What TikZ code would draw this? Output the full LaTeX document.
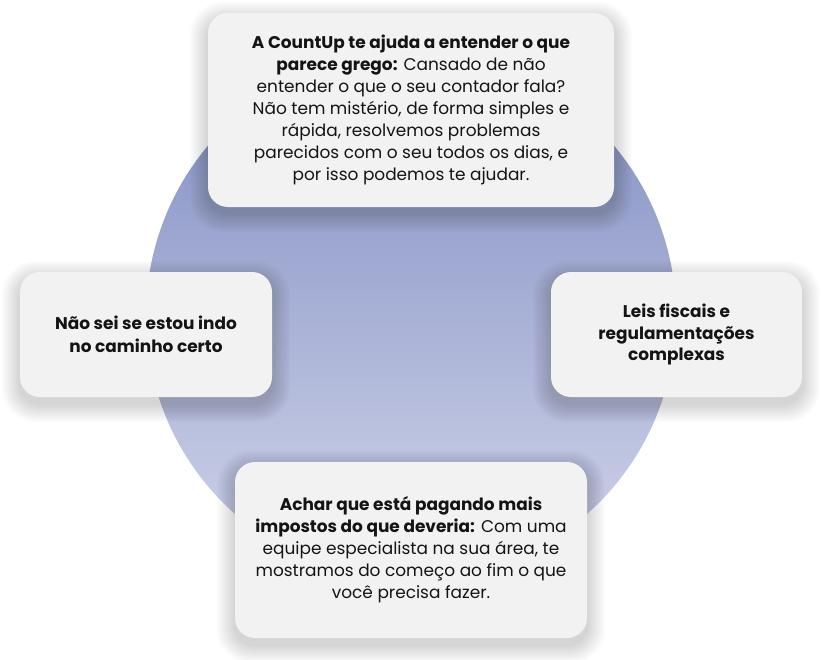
\documentclass[tikz,border=0pt]{standalone}
\usepackage{fontspec}
\setmainfont{Poppins}
\definecolor{boxfill}{HTML}{F2F2F2}
\definecolor{textc}{HTML}{141414}
\definecolor{circtop}{HTML}{7F8CC2}
\definecolor{circbot}{HTML}{D2D6EA}
\newcommand{\softshade}[4]{%
  \foreach \i in {1,...,14}{%
    \fill[black, opacity=0.011, rounded corners=20+\i]
      (#1-1.3*\i, #2-1.3*\i+7) rectangle (#3+1.3*\i, #4+1.3*\i+7);}}
\begin{document}
\begin{tikzpicture}[x=1bp,y=-1bp,
  box/.style={fill=boxfill, rounded corners=20bp, align=center, text=textc,
    font=\fontsize{17}{22}\selectfont, inner sep=0pt}]
\useasboundingbox (0,0) rectangle (822,660);
\shade[top color=circtop, bottom color=circbot] (411,316) circle (265);
\softshade{208}{13}{614}{207}
\softshade{20}{272}{272}{397}
\softshade{551}{272}{802}{397}
\softshade{235}{462}{587}{638}
\node[box, minimum width=406bp, minimum height=194bp] (top) at (411,110)
  {\textbf{A CountUp te ajuda a entender o que}\\
   \textbf{parece grego:} Cansado de não\\
   entender o que o seu contador fala?\\
   Não tem mistério, de forma simples e\\
   rápida, resolvemos problemas\\
   parecidos com o seu todos os dias, e\\
   por isso podemos te ajudar.};
\node[box, minimum width=252bp, minimum height=125bp] (left) at (146,334.5)
  {\textbf{Não sei se estou indo}\\[1bp] \textbf{no caminho certo}};
\node[box, minimum width=251bp, minimum height=125bp] (right) at (676.5,334.5)
  {\textbf{Leis fiscais e}\\ \textbf{regulamentações}\\ \textbf{complexas}};
\node[box, minimum width=352bp, minimum height=176bp] (bottom) at (411,550)
  {\textbf{Achar que está pagando mais}\\
   \textbf{impostos do que deveria:} Com uma\\
   equipe especialista na sua área, te\\
   mostramos do começo ao fim o que\\
   você precisa fazer.};
\end{tikzpicture}
\end{document}
